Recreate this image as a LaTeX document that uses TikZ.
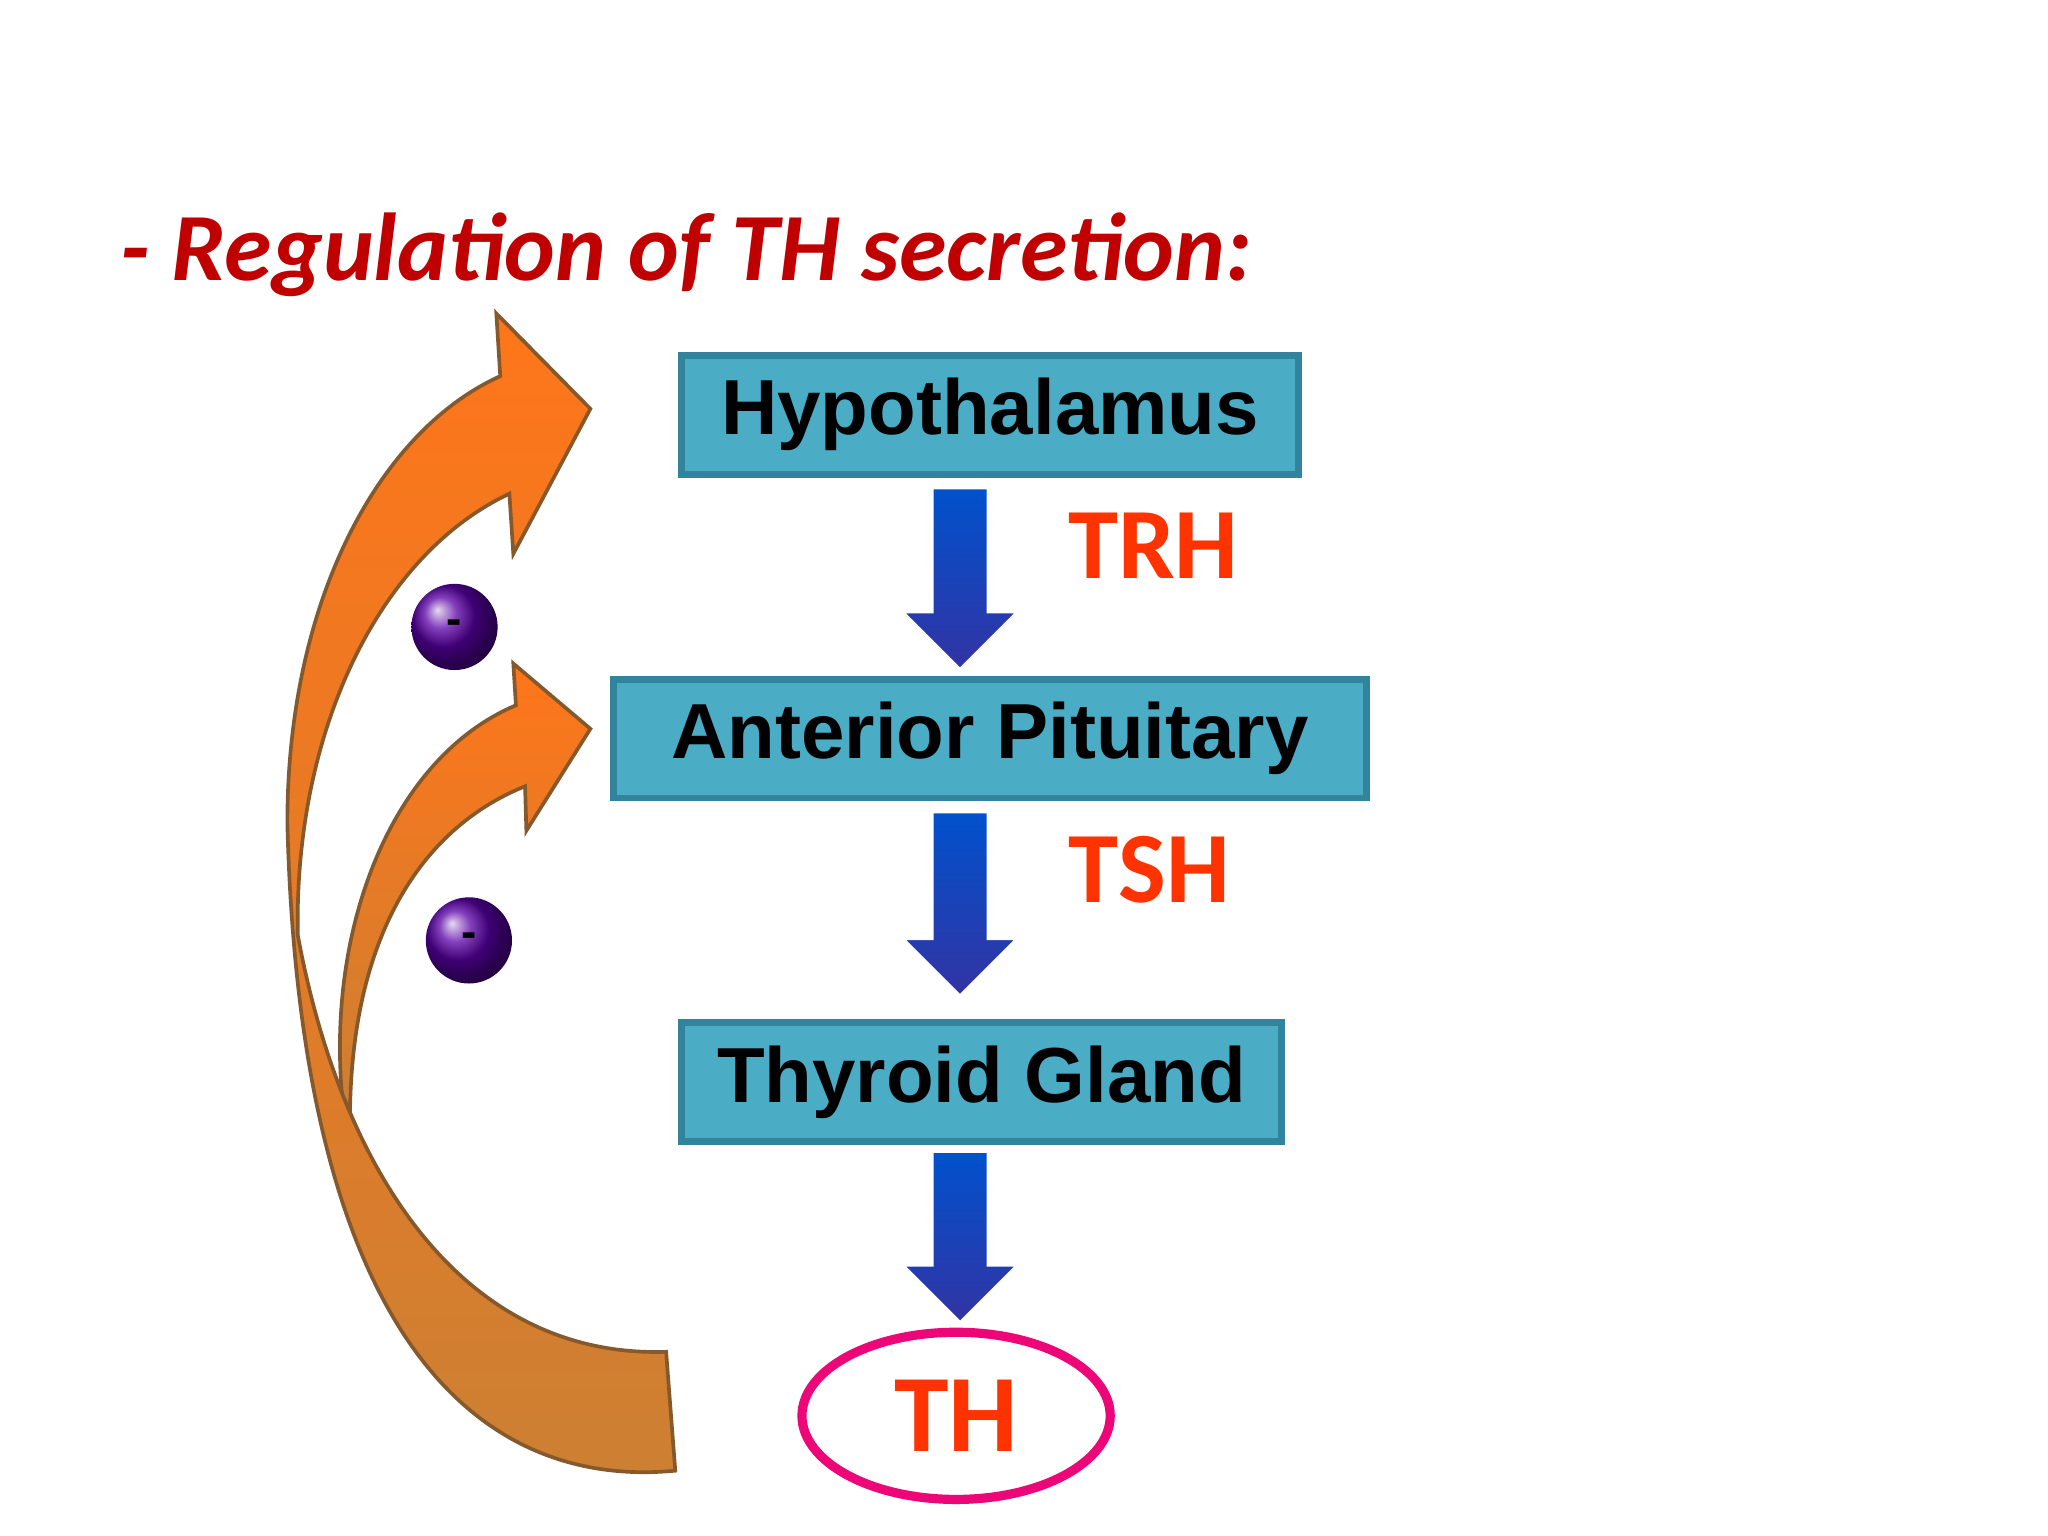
\documentclass[tikz,border=0pt]{standalone}
\usepackage{fontspec}
\setmainfont{Liberation Sans}
\newfontfamily\calfont{Carlito}
\usetikzlibrary{calc, shapes.geometric}
\definecolor{boxfill}{HTML}{4BACC6}
\definecolor{boxline}{HTML}{31849B}
\definecolor{hormone}{HTML}{FF3300}
\definecolor{titlered}{HTML}{C00000}
\tikzset{
  organ/.style={draw=boxline, line width=1.5pt, fill=boxfill, minimum height=0.91cm,
    font={\fontsize{17}{20}\selectfont\bfseries}, inner sep=0pt},
  hlabel/.style={text=hormone, font={\calfont\fontsize{22}{26}\selectfont\bfseries}},
  minus/.style={circle, minimum size=0.66cm, inner sep=0pt, ball color=violet!70!blue,
    font={\bfseries}},
  feedback/.style={draw=brown!70!black, line width=0.8pt, top color=orange!80!red!90, bottom color=brown!80!orange},
}
\newcommand\bluearr[2]{%
  \path[draw=white, top color=blue!60!cyan!80!black, bottom color=blue!55!black!80]
    ($(#1)+(-0.21,0)$) -- ($(#2)+(-0.21,0.43)$) -- ($(#2)+(-0.43,0.43)$) -- (#2)
    -- ($(#2)+(0.43,0.43)$) -- ($(#2)+(0.21,0.43)$) -- ($(#1)+(0.21,0)$) -- cycle;}
\begin{document}
\begin{tikzpicture}
\useasboundingbox (0,0) rectangle (15.68,-11.76);
\fill[white] (0,0) rectangle (15.68,-11.76);

\node[anchor=west, text=titlered, font={\calfont\fontsize{21}{25}\selectfont\bfseries\itshape}]
  (title) at (0.8,-1.95) {- Regulation of TH secretion:};

% feedback arrows (drawn first)
\path[feedback] (3.95,-5.40) .. controls (3.0,-5.80) and (2.50,-7.10) .. (2.62,-8.40)
  -- (2.68,-8.50) .. controls (2.70,-7.20) and (3.20,-6.35) .. (4.02,-6.02)
  -- (4.03,-6.36) -- (4.52,-5.58) -- (3.93,-5.08) -- cycle;
\path[feedback] (5.17,-11.26) .. controls (3.70,-11.40) and (2.30,-10.30) .. (2.20,-6.30)
  .. controls (2.20,-4.60) and (2.90,-3.30) .. (3.83,-2.88)
  -- (3.80,-2.40) -- (4.52,-3.13) -- (3.93,-4.24) -- (3.90,-3.78)
  .. controls (2.90,-4.25) and (2.25,-5.60) .. (2.28,-7.16)
  .. controls (2.60,-8.90) and (3.50,-10.40) .. (5.10,-10.35) -- cycle;

\node[minus] (m1) at (3.48,-4.80) {-};
\node[minus] (m2) at (3.59,-7.20) {-};

\node[organ, minimum width=4.72cm] (hyp) at (7.58,-3.175) {Hypothalamus};
\node[organ, minimum width=5.76cm] (ap) at (7.58,-5.655) {Anterior Pituitary};
\node[organ, minimum width=4.59cm] (tg) at (7.515,-8.285) {Thyroid Gland};
\node[draw=magenta!80!red, line width=2pt, fill=white, ellipse, minimum width=2.36cm,
  minimum height=1.28cm, inner sep=0pt, text=hormone,
  font={\calfont\fontsize{24}{28}\selectfont\bfseries}] (th) at (7.32,-10.84) {TH};

\coordinate (s1) at (7.35,-3.74); \coordinate (e1) at (7.35,-5.12);
\coordinate (s2) at (7.35,-6.22); \coordinate (e2) at (7.35,-7.62);
\coordinate (s3) at (7.35,-8.82); \coordinate (e3) at (7.35,-10.12);
\bluearr{s1}{e1}
\bluearr{s2}{e2}
\bluearr{s3}{e3}

\node[hlabel] (trh) at (8.83,-4.18) {TRH};
\node[hlabel] (tsh) at (8.80,-6.66) {TSH};
\end{tikzpicture}
\end{document}
